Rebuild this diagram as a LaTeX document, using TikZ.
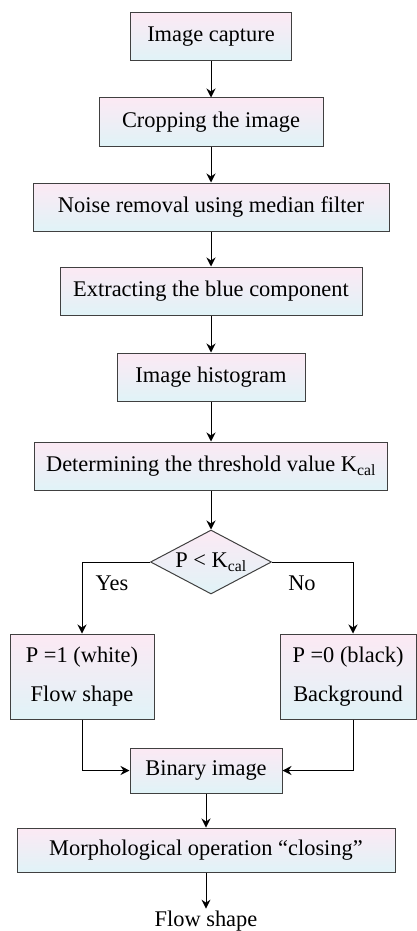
\documentclass[tikz,border=0pt]{standalone}
\usepackage{fontspec}
\setmainfont{Liberation Serif}
\usetikzlibrary{shapes.geometric,arrows.meta}
\definecolor{toppink}{RGB}{252,233,244}
\definecolor{midgray}{RGB}{243,240,243}
\definecolor{botcyan}{RGB}{224,243,247}
\tikzset{
    blk/.style={draw=black!75, line width=1pt, top color=toppink, middle color=midgray, bottom color=botcyan,
        minimum height=48pt, inner sep=0pt, align=center, font=\fontsize{22.4}{26}\selectfont},
    arr/.style={-{Stealth[length=9pt,width=9pt,inset=3pt]}, line width=1pt},
    lbl/.style={font=\fontsize{22.4}{26}\selectfont, inner sep=2pt}
}
\begin{document}
\begin{tikzpicture}[x=1pt, y=-1pt]
    \useasboundingbox (0,0) rectangle (417,931);
    \node[blk, minimum width=161pt] (cap) at (211,37) {Image capture};
    \node[blk, minimum width=224pt] (crop) at (211,122) {Cropping the image};
    \node[blk, minimum width=356pt] (noise) at (211,207) {Noise removal using median filter};
    \node[blk, minimum width=302pt] (blue) at (211,291) {Extracting the blue component};
    \node[blk, minimum width=188pt] (hist) at (211,377) {Image histogram};
    \node[blk, minimum width=353pt] (thr) at (211,466) {Determining the threshold value K\textsubscript{cal}};
    \node[blk, diamond, aspect=2, minimum width=121pt, minimum height=64pt] (dec) at (211,562) {P < K\textsubscript{cal}};
    \node[blk, minimum width=144pt, minimum height=85pt] (yes) at (82,676.5) {P =1 (white)\\[13pt]Flow shape};
    \node[blk, minimum width=136pt, minimum height=85pt] (no) at (348,676.5) {P =0 (black)\\[13pt]Background};
    \node[blk, minimum width=152pt, minimum height=45pt] (bin) at (206,770.5) {Binary image};
    \node[blk, minimum width=378pt, minimum height=44pt] (morph) at (206,850) {Morphological operation “closing”};
    \node[lbl] (out) at (206,921) {Flow shape};
    \node[lbl] (y) at (112,583) {Yes};
    \node[lbl] (n) at (302,583) {No};
    % main column
    \foreach \a/\b in {cap/crop, crop/noise, noise/blue, blue/hist, hist/thr, thr/dec, bin/morph, morph/out}
        \draw[arr] (\a) -- (\b);
    % branches
    \draw[arr] (dec.west) -| (yes.north);
    \draw[arr] (dec.east) -| ([xshift=5pt]no.north);
    \draw[arr] (yes.south) |- (bin.west);
    \draw[arr] ([xshift=5pt]no.south) |- (bin.east);
\end{tikzpicture}
\end{document}
